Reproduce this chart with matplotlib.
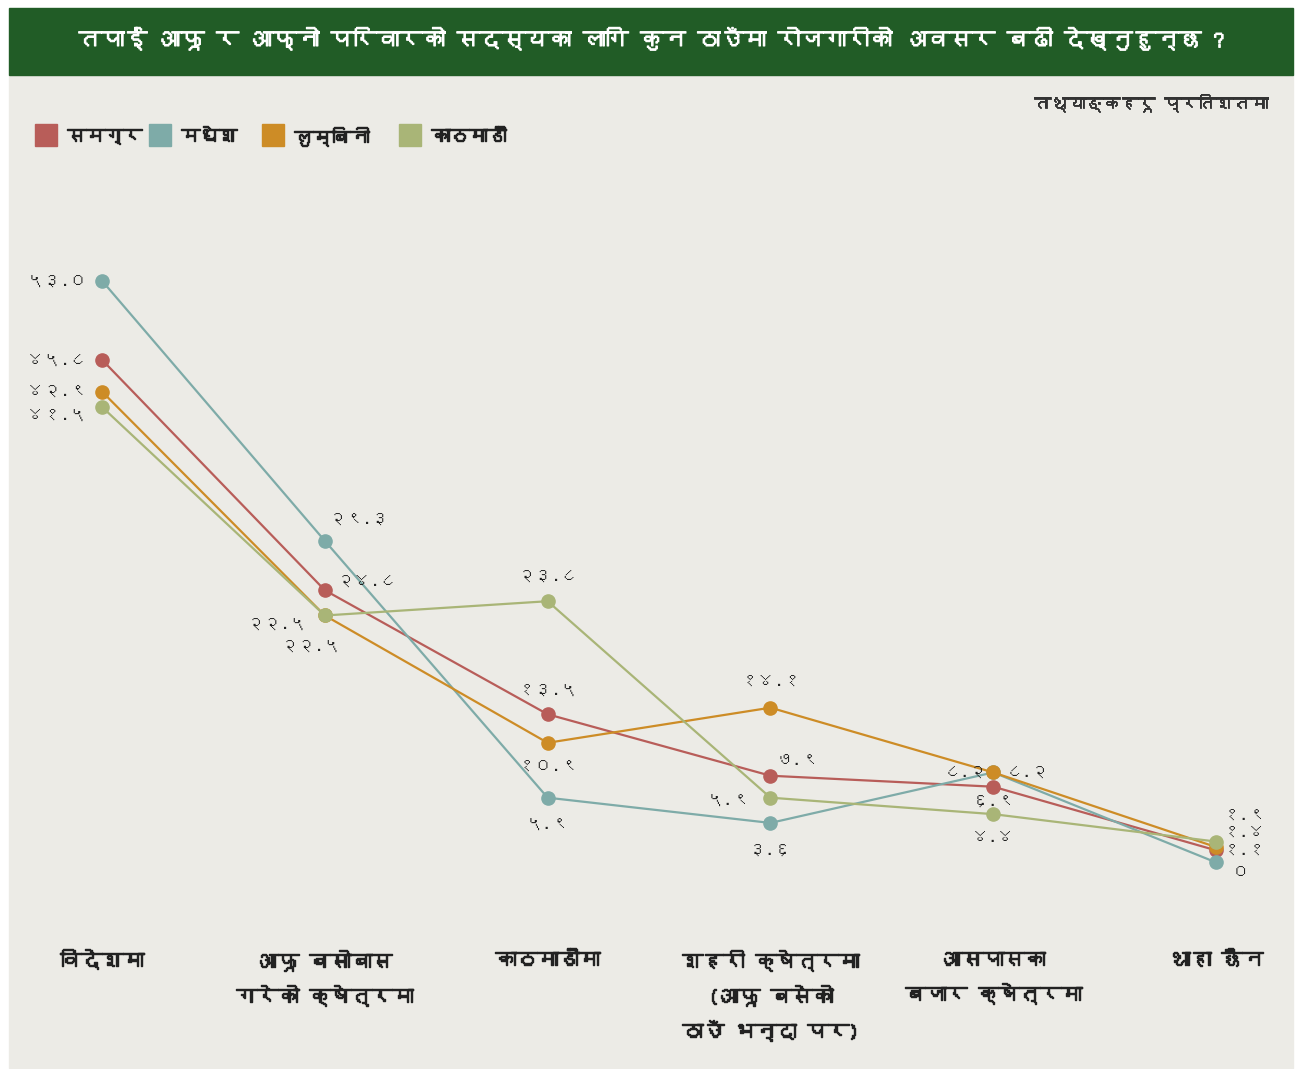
import matplotlib
matplotlib.use("Agg")
import matplotlib.pyplot as plt
from matplotlib import font_manager
from matplotlib.patches import Rectangle
from matplotlib import ft2font
import matplotlib.patheffects as pe

# ---------------- data ----------------
categories = ["विदेशमा", "आफू बसोबास\nगरेको क्षेत्रमा", "काठमाडौंमा",
              "शहरी क्षेत्रमा\n(आफू बसेको\nठाउँ भन्दा पर)", "आसपासका\nबजार क्षेत्रमा", "थाहा छैन"]
series_names = ["समग्र", "मधेश", "लुम्बिनी", "काठमाडौं"]
samagra = [45.8, 24.8, 13.5, 7.9, 6.9, 1.1]
madhesh = [53.0, 29.3, 5.9, 3.6, 8.2, 0]
lumbini = [42.9, 22.5, 10.9, 14.1, 8.2, 1.4]
kathmandu = [41.5, 22.5, 23.8, 5.9, 4.4, 1.9]
title = "तपाईं आफू र आफ्नो परिवारको सदस्यका लागि कुन ठाउँमा रोजगारीको अवसर बढी देख्नुहुन्छ ?"
note = "तथ्याङ्कहरू प्रतिशतमा"

# ---------------- fonts ----------------
def find_deva():
    reg = None
    for f in font_manager.fontManager.ttflist:
        try:
            cm = ft2font.FT2Font(f.fname).get_charmap()
        except Exception:
            continue
        if 0x0915 in cm and 0x0967 in cm:
            reg = reg or f.name
    return reg

deva = find_deva()
fam = ([deva] if deva else []) + ["DejaVu Sans"]
plt.rcParams["font.family"] = fam

DEV_DIGITS = str.maketrans("0123456789", "०१२३४५६७८९")
def dev(v):
    s = "0" if v == 0 else f"{v:.1f}"
    return s.translate(DEV_DIGITS)

def boldfx(color, w=1.0):
    return [pe.withStroke(linewidth=w, foreground=color)]

colors = ["#B85D59", "#7EABA8", "#CD8C26", "#A9B577"]
series = [samagra, madhesh, lumbini, kathmandu]

W, H = 1295, 1069
fig = plt.figure(figsize=(W / 100, H / 100), dpi=100)
fig.patch.set_facecolor("white")
fig.patches.append(Rectangle((9 / W, 1 - 1068 / H), 1284 / W, 993 / H,
                             transform=fig.transFigure, color="#ECEBE6", zorder=-2))
fig.patches.append(Rectangle((9 / W, 1 - 75 / H), 1284 / W, 67 / H,
                             transform=fig.transFigure, color="#215C26", zorder=-1))
fig.text(651 / W, 1 - 39 / H, title, color="white", fontsize=16.5, fontweight="bold",
         ha="center", va="center", path_effects=boldfx("white", 0.8))
fig.text(1268 / W, 1 - 103 / H, note, color="#333333", fontsize=12.5, style="italic",
         ha="right", va="center", path_effects=boldfx("#333333", 0.6))

# legend
leg_x = [35, 149, 262, 399]
for lx, name, c in zip(leg_x, series_names, colors):
    fig.patches.append(Rectangle((lx / W, 1 - 146 / H), 22 / W, 22 / H,
                                 transform=fig.transFigure, color=c, zorder=2))
    fig.text((lx + 32) / W, 1 - 136 / H, name, color="#222222", fontsize=13.5,
             fontweight="bold", ha="left", va="center", path_effects=boldfx("#222222"))

ax = fig.add_axes([60 / W, 1 - 880 / H, 1200 / W, 630 / H])
ax.set_facecolor("none")
ax.set_zorder(3)
ax.set_xlim(-0.1885, 5.197)
ax.set_ylim(-1.6, 55.8)
ax.axis("off")

x = list(range(len(categories)))
for vals, c in zip(series, colors):
    ax.plot(x, vals, color=c, lw=1.6, marker="o", markersize=9.5, zorder=3)

# data-label offsets (pixels) per series / category
offsets = [
    [(-45, 0), (42, 8), (0, 24), (27, 16), (0, -15), (28, 0)],
    [(-45, 0), (34, 21), (0, -26), (0, -28), (34, 0), (24, -10)],
    [(-45, 0), (-48, -8), (0, -24), (0, 26), (-28, 0), (28, 14)],
    [(-45, -8), (-14, -30), (0, 24), (-42, -2), (0, -23), (28, 26)],
]
for vals, offs in zip(series, offsets):
    for xi, (v, (dx, dy)) in enumerate(zip(vals, offs)):
        ax.annotate(dev(v), (xi, v), xytext=(dx, dy), textcoords="offset pixels",
                    ha="center", va="center", fontsize=12.5, color="#222222", zorder=4)

# category labels
for xi, lab in enumerate(categories):
    ax.annotate(lab, (xi, 0), xycoords=("data", "figure fraction"),
                xytext=(0, 1 - 951 / H), textcoords=("offset pixels", "figure fraction"),
                ha="center", va="top", fontsize=15, fontweight="bold", color="#222222",
                linespacing=1.85, path_effects=boldfx("#222222"))

fig.savefig("out.png", dpi=100, facecolor=fig.get_facecolor())
